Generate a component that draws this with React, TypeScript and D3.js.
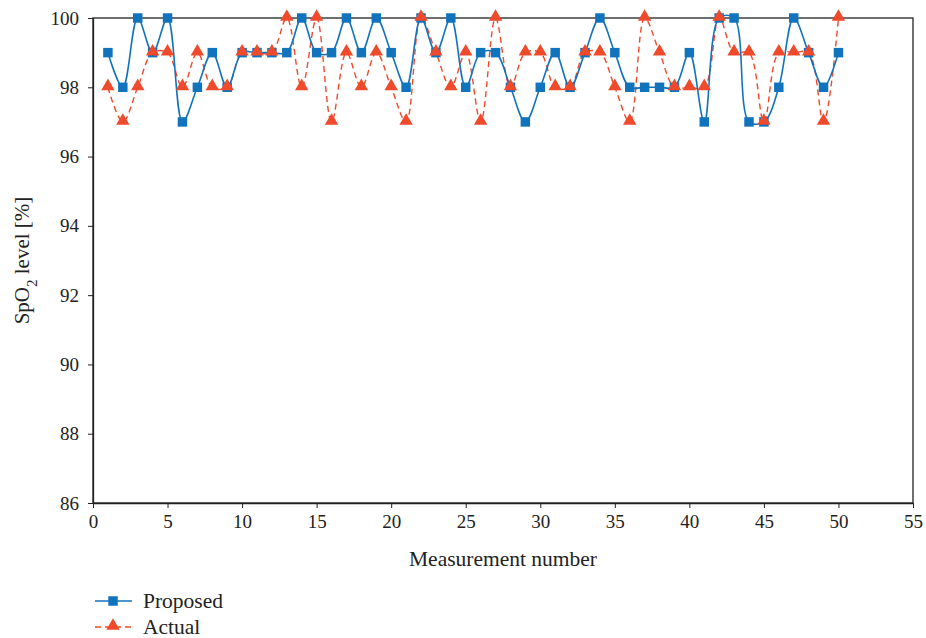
import { useEffect, useRef } from 'react';
import * as d3 from 'd3';

const measurements = d3.range(1, 51);
const proposed = [
  99, 98, 100, 99, 100, 97, 98, 99, 98, 99,
  99, 99, 99, 100, 99, 99, 100, 99, 100, 99,
  98, 100, 99, 100, 98, 99, 99, 98, 97, 98,
  99, 98, 99, 100, 99, 98, 98, 98, 98, 99,
  97, 100, 100, 97, 97, 98, 100, 99, 98, 99,
];
const actual = [
  98, 97, 98, 99, 99, 98, 99, 98, 98, 99,
  99, 99, 100, 98, 100, 97, 99, 98, 99, 98,
  97, 100, 99, 98, 99, 97, 100, 98, 99, 99,
  98, 98, 99, 99, 98, 97, 100, 99, 98, 98,
  98, 100, 99, 99, 97, 99, 99, 99, 97, 100,
];
const xTicks = d3.range(0, 56, 5);
const yTicks = d3.range(86, 101, 2);

const BLUE = '#1273bd';
const RED = '#ef4a2b';
const FONT = '"Liberation Serif", "DejaVu Serif", serif';

export default function App() {
  const svgRef = useRef<SVGSVGElement | null>(null);

  useEffect(() => {
    const width = 926;
    const height = 638;
    const margin = { top: 18, right: 13, bottom: 135, left: 93 };

    const svg = d3.select(svgRef.current);
    svg.selectAll('*').remove();
    svg.attr('width', width).attr('height', height);

    const x = d3.scaleLinear().domain([0, 55]).range([margin.left, width - margin.right]);
    const y = d3.scaleLinear().domain([86, 100]).range([height - margin.bottom, margin.top]);

    // frame
    svg.append('rect')
      .attr('x', x(0))
      .attr('y', y(100))
      .attr('width', x(55) - x(0))
      .attr('height', y(86) - y(100))
      .attr('fill', 'none')
      .attr('stroke', '#222')
      .attr('stroke-width', 1.3);

    const xAxis = svg.append('g')
      .attr('transform', `translate(0,${y(86)})`)
      .call(d3.axisBottom(x).tickValues(xTicks).tickSize(5).tickSizeOuter(0).tickPadding(7));
    const yAxis = svg.append('g')
      .attr('transform', `translate(${x(0)},0)`)
      .call(d3.axisLeft(y).tickValues(yTicks).tickSize(5).tickSizeOuter(0).tickPadding(9));

    [xAxis, yAxis].forEach(a => {
      a.select('.domain').attr('stroke', '#222').attr('stroke-width', 1.3);
      a.selectAll('.tick line').attr('stroke', '#222');
      a.selectAll('.tick text')
        .attr('fill', '#222')
        .attr('font-family', FONT)
        .attr('font-size', 19);
    });

    svg.append('text')
      .attr('x', (x(0) + x(55)) / 2)
      .attr('y', 566)
      .attr('text-anchor', 'middle')
      .attr('font-family', FONT)
      .attr('font-size', 21.5)
      .attr('fill', '#222')
      .text('Measurement number');

    const yl = svg.append('text')
      .attr('transform', `translate(29,${(y(86) + y(100)) / 2}) rotate(-90)`)
      .attr('text-anchor', 'middle')
      .attr('font-family', FONT)
      .attr('font-size', 21)
      .attr('fill', '#222');
    yl.append('tspan').text('SpO');
    yl.append('tspan').attr('baseline-shift', 'sub').attr('font-size', 15).text('2');
    yl.append('tspan').text(' level [%]');

    const line = d3.line<number>()
      .x((_, i) => x(measurements[i]))
      .y(d => y(d))
      .curve(d3.curveCatmullRom.alpha(0.5));

    svg.append('path')
      .attr('d', line(actual))
      .attr('fill', 'none')
      .attr('stroke', RED)
      .attr('stroke-width', 1.4)
      .attr('stroke-dasharray', '6,4');

    svg.append('path')
      .attr('d', line(proposed))
      .attr('fill', 'none')
      .attr('stroke', BLUE)
      .attr('stroke-width', 1.6);

    const tri = d3.symbol().type(d3.symbolTriangle).size(78);
    const sq = d3.symbol().type(d3.symbolSquare).size(90);

    svg.append('g').selectAll('path')
      .data(proposed)
      .join('path')
      .attr('d', sq)
      .attr('transform', (d, i) => `translate(${x(measurements[i])},${y(d)})`)
      .attr('fill', BLUE);

    svg.append('g').selectAll('path')
      .data(actual)
      .join('path')
      .attr('d', tri)
      .attr('transform', (d, i) => `translate(${x(measurements[i])},${y(d) - 1})`)
      .attr('fill', RED);

    // legend
    const legend = [
      { name: 'Proposed', color: BLUE, dash: null, shape: sq },
      { name: 'Actual', color: RED, dash: '6,4', shape: tri },
    ];
    legend.forEach((l, i) => {
      const ly = 601 + i * 26;
      const g = svg.append('g');
      g.append('line')
        .attr('x1', 95).attr('x2', 132)
        .attr('y1', ly).attr('y2', ly)
        .attr('stroke', l.color)
        .attr('stroke-width', 1.4)
        .attr('stroke-dasharray', l.dash);
      g.append('path')
        .attr('d', l.shape)
        .attr('transform', `translate(113,${ly - (i ? 1 : 0)})`)
        .attr('fill', l.color);
      g.append('text')
        .attr('x', 143)
        .attr('y', ly + 7)
        .attr('font-family', FONT)
        .attr('font-size', 21.5)
        .attr('fill', '#222')
        .text(l.name);
    });
  }, []);

  return (
    <div style={{ position: 'absolute', left: 0, top: 0 }}>
      <svg ref={svgRef} style={{ display: 'block', background: '#fff' }} />
    </div>
  );
}
